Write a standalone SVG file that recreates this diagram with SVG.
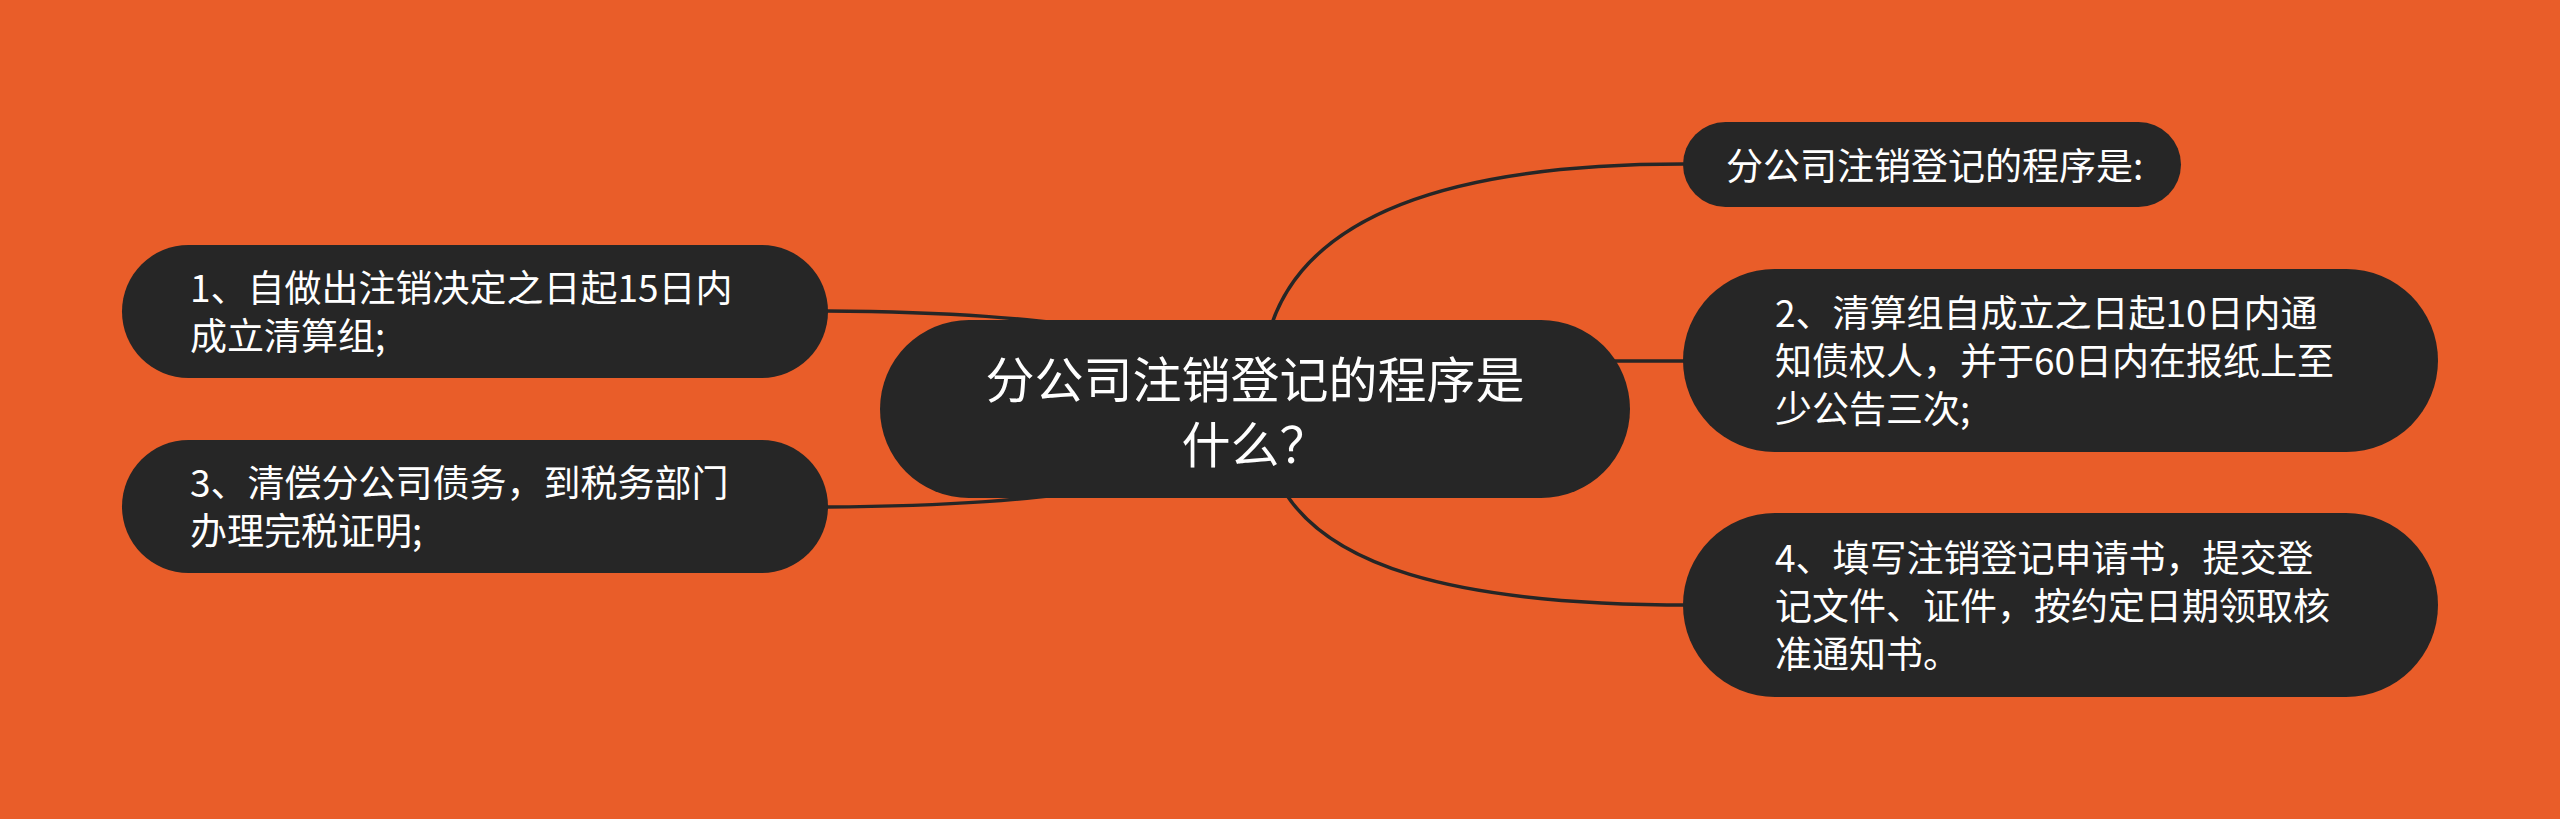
<svg xmlns="http://www.w3.org/2000/svg" width="2560" height="819" viewBox="0 0 2560 819">
<style>
.node{fill:#262626;}
.t{fill:#ffffff;font-family:"Noto Sans CJK SC","Noto Sans",sans-serif;font-size:37px;}
.tc{fill:#ffffff;font-family:"Noto Sans CJK SC","Noto Sans",sans-serif;font-size:49px;text-anchor:middle;}
.edge{fill:none;stroke:#262626;stroke-width:3.5;stroke-linecap:round;}
</style>
<rect x="0" y="0" width="2560" height="819" fill="#E95D29"/>
<g id="connectors">
<path class="edge" d="M826,311 C960,312 1020,318 1120,330"/>
<path class="edge" d="M826,507 C960,506 1020,500 1120,488"/>
<path class="edge" d="M1266,345 C1290,230 1420,164 1683,164"/>
<path class="edge" d="M1600,361 L1690,361"/>
<path class="edge" d="M1278,480 C1320,565 1450,605 1690,605"/>
</g>
<g id="center">
<rect class="node" x="880" y="320" width="750" height="178" rx="89"/>
<text class="tc" x="1255" y="398">分公司注销登记的程序是</text>
<text class="tc" x="1255" y="463">什么？</text>
</g>
<g id="node1">
<rect class="node" x="122" y="245" width="706" height="133" rx="66.5"/>
<text class="t" x="190" y="302">1、自做出注销决定之日起15日内</text>
<text class="t" x="190" y="350">成立清算组;</text>
</g>
<g id="node3">
<rect class="node" x="122" y="440" width="706" height="133" rx="66.5"/>
<text class="t" x="190" y="497">3、清偿分公司债务，到税务部门</text>
<text class="t" x="190" y="545">办理完税证明;</text>
</g>
<g id="nodeA">
<rect class="node" x="1683" y="122" width="498" height="85" rx="42.5"/>
<text class="t" x="1726" y="180">分公司注销登记的程序是:</text>
</g>
<g id="node2">
<rect class="node" x="1683" y="269" width="755" height="183" rx="91.5"/>
<text class="t" x="1775" y="327">2、清算组自成立之日起10日内通</text>
<text class="t" x="1775" y="375">知债权人，并于60日内在报纸上至</text>
<text class="t" x="1775" y="423">少公告三次;</text>
</g>
<g id="node4">
<rect class="node" x="1683" y="513" width="755" height="184" rx="92"/>
<text class="t" x="1775" y="572">4、填写注销登记申请书，提交登</text>
<text class="t" x="1775" y="620">记文件、证件，按约定日期领取核</text>
<text class="t" x="1775" y="668">准通知书。</text>
</g>
</svg>
